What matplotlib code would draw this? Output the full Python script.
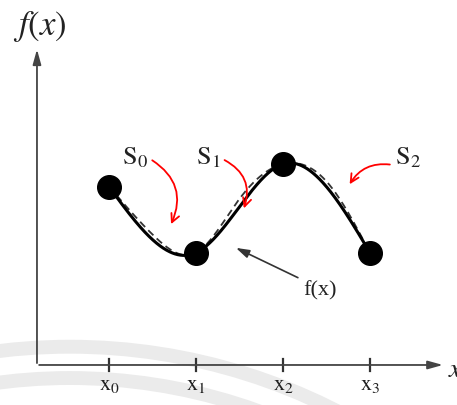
import numpy as np
import matplotlib.pyplot as plt
from matplotlib.patches import Arc

plt.rcParams['mathtext.fontset'] = 'stix'
plt.rcParams['font.family'] = ['Liberation Serif', 'DejaVu Serif']

# knots of the spline (x0..x3) and values
knot_x = [1.0, 2.0, 3.0, 4.0]
knot_y = [2.05, 1.29, 2.31, 1.29]
tick_labels = [r'$\mathrm{x}_0$', r'$\mathrm{x}_1$', r'$\mathrm{x}_2$', r'$\mathrm{x}_3$']
seg_labels = [r'$\mathrm{S}_0$', r'$\mathrm{S}_1$', r'$\mathrm{S}_2$']
# f(x): the dashed curve, read at knots and segment midpoints
f_x = [1.0, 1.5, 2.0, 2.5, 3.0, 3.5, 4.0]
f_y = [2.05, 1.50, 1.29, 1.91, 2.31, 2.11, 1.29]


def natural_spline(xk, yk, xs):
    xk = np.asarray(xk, float)
    yk = np.asarray(yk, float)
    n = len(xk)
    h = np.diff(xk)
    A = np.zeros((n, n))
    b = np.zeros(n)
    A[0, 0] = A[-1, -1] = 1
    for i in range(1, n - 1):
        A[i, i - 1] = h[i - 1]
        A[i, i] = 2 * (h[i - 1] + h[i])
        A[i, i + 1] = h[i]
        b[i] = 6 * ((yk[i + 1] - yk[i]) / h[i] - (yk[i] - yk[i - 1]) / h[i - 1])
    M = np.linalg.solve(A, b)
    idx = np.clip(np.searchsorted(xk, xs) - 1, 0, n - 2)
    x0, x1 = xk[idx], xk[idx + 1]
    hh = x1 - x0
    t0, t1 = x1 - xs, xs - x0
    return (M[idx] * t0**3 / (6 * hh) + M[idx + 1] * t1**3 / (6 * hh)
            + (yk[idx] / hh - M[idx] * hh / 6) * t0
            + (yk[idx + 1] / hh - M[idx + 1] * hh / 6) * t1)


fig = plt.figure(figsize=(4.57, 4.06), dpi=100)
ax = fig.add_axes([0, 0, 1, 1])
ax.set_xlim(-0.253, 5.0)
ax.set_ylim(-0.46, 4.207)
ax.axis('off')

# faint watermark bands near the bottom
for r in [6.74, 6.38]:
    ax.add_patch(Arc((0.55, -6.53), 2 * r, 2 * r, theta1=20, theta2=160,
                     color='#ebebeb', lw=10, zorder=0))

# axes
ax.annotate('', xy=(0.172, 3.66), xytext=(0.172, -0.01),
            arrowprops=dict(arrowstyle='-|>,head_length=0.9,head_width=0.25',
                            color='#444444', lw=1.3))
ax.annotate('', xy=(4.87, 0), xytext=(0.165, 0),
            arrowprops=dict(arrowstyle='-|>,head_length=0.9,head_width=0.25',
                            color='#444444', lw=1.3))
ax.text(0.207, 3.90, r'$f(x)$', fontsize=25, ha='center', va='center', color='#222222')
ax.text(4.90, -0.05, r'$x$', fontsize=20, ha='left', va='center', color='#222222')

for xv, lab in zip(knot_x, tick_labels):
    ax.plot([xv, xv], [-0.07, 0.07], color='#333333', lw=1.6)
    ax.text(xv, -0.22, lab, fontsize=16, ha='center', va='center', color='#222222')

xs = np.linspace(knot_x[0], knot_x[-1], 400)
ax.plot(xs, natural_spline(f_x, f_y, xs), color='#333333', lw=1.3, ls=(0, (4, 2.5)))
ax.plot(xs, natural_spline(knot_x, knot_y, xs), color='black', lw=2.2)
ax.plot(knot_x, knot_y, 'o', color='black', ms=17, zorder=5)

# segment labels with red curved arrows
lab_pos = [(1.30, 2.39), (2.14, 2.39), (4.44, 2.39)]
arr_start = [(1.47, 2.37), (2.30, 2.37), (4.26, 2.30)]
arr_end = [(1.70, 1.59), (2.54, 1.77), (3.75, 2.05)]
arr_rad = [-0.45, -0.45, 0.35]
for lab, p, s, e, rad in zip(seg_labels, lab_pos, arr_start, arr_end, arr_rad):
    ax.text(p[0], p[1], lab, fontsize=19, ha='center', va='center', color='#222222')
    ax.annotate('', xy=e, xytext=s,
                arrowprops=dict(arrowstyle='->,head_length=0.6,head_width=0.3',
                                color='red', lw=1.3,
                                connectionstyle='arc3,rad=%s' % rad))

# f(x) pointer
ax.annotate('', xy=(2.43, 1.36), xytext=(3.20, 0.99),
            arrowprops=dict(arrowstyle='-|>,head_length=0.8,head_width=0.25',
                            color='#333333', lw=1.2))
ax.text(3.43, 0.87, 'f(x)', fontsize=16, ha='center', va='center', color='#222222')

fig.savefig('out.png', dpi=100)
